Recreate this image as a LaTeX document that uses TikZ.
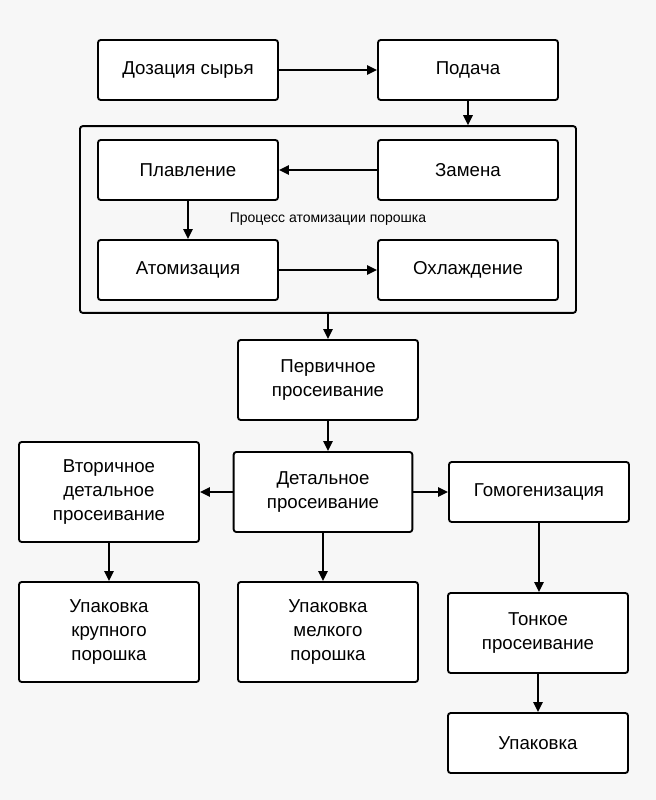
\documentclass[tikz,border=0pt]{standalone}
\usepackage{fontspec}
\setmainfont{Liberation Sans}
\usetikzlibrary{arrows.meta, positioning}

\begin{document}
\begin{tikzpicture}[
    x=0.75pt, y=-0.75pt,
    box/.style={draw, rectangle, rounded corners=2pt, fill=white, line width=1.4pt, minimum height=45pt, minimum width=135pt, align=center, inner sep=0pt, font=\fontsize{14}{18}\selectfont},
    group/.style={draw, rectangle, rounded corners=2pt, line width=1.4pt, minimum width=372pt, minimum height=140pt, inner sep=0pt, font=\fontsize{10.5}{12}\selectfont},
    arrow/.style={-{Triangle[length=7.5pt, width=7pt]}, line width=1.4pt}
]

\fill[black!3] (0,0) rectangle (656,800);

\node[group] (proc) at (328,219.5) {Процесс атомизации порошка};

\node[box] (dozac) at (188,70) {Дозация сырья};
\node[box] (podacha) at (468,70) {Подача};
\node[box] (plav) at (188,170) {Плавление};
\node[box] (zamena) at (468,170) {Замена};
\node[box] (atom) at (188,270) {Атомизация};
\node[box] (ohlazh) at (468,270) {Охлаждение};

\node[box, minimum height=60pt] (perv) at (328,380) {Первичное\\просеивание};
\node[box, minimum width=134pt, minimum height=60pt] (detal) at (323,492) {Детальное\\просеивание};
\node[box, minimum height=75pt] (vtor) at (109,492) {Вторичное\\детальное\\просеивание};
\node[box] (gomo) at (539,492) {Гомогенизация};

\node[box, minimum height=75pt] (krup) at (109,632) {Упаковка\\крупного\\порошка};
\node[box, minimum height=75pt] (melk) at (328,632) {Упаковка\\мелкого\\порошка};
\node[box, minimum height=60pt] (tonk) at (538,633) {Тонкое\\просеивание};
\node[box] (upak) at (538,743) {Упаковка};

\draw[arrow] (dozac) -- (podacha);
\draw[arrow] (podacha.south) -- (podacha.south |- proc.north);
\draw[arrow] (zamena) -- (plav);
\draw[arrow] (plav) -- (atom);
\draw[arrow] (atom) -- (ohlazh);
\draw[arrow] (proc.south) -- (perv.north);
\draw[arrow] (perv.south) -- (perv.south |- detal.north);
\draw[arrow] (detal) -- (vtor);
\draw[arrow] (detal) -- (gomo);
\draw[arrow] (vtor) -- (krup);
\draw[arrow] (detal.south) -- (detal.south |- melk.north);
\draw[arrow] (gomo.south) -- (gomo.south |- tonk.north);
\draw[arrow] (tonk) -- (upak);

\end{tikzpicture}
\end{document}
